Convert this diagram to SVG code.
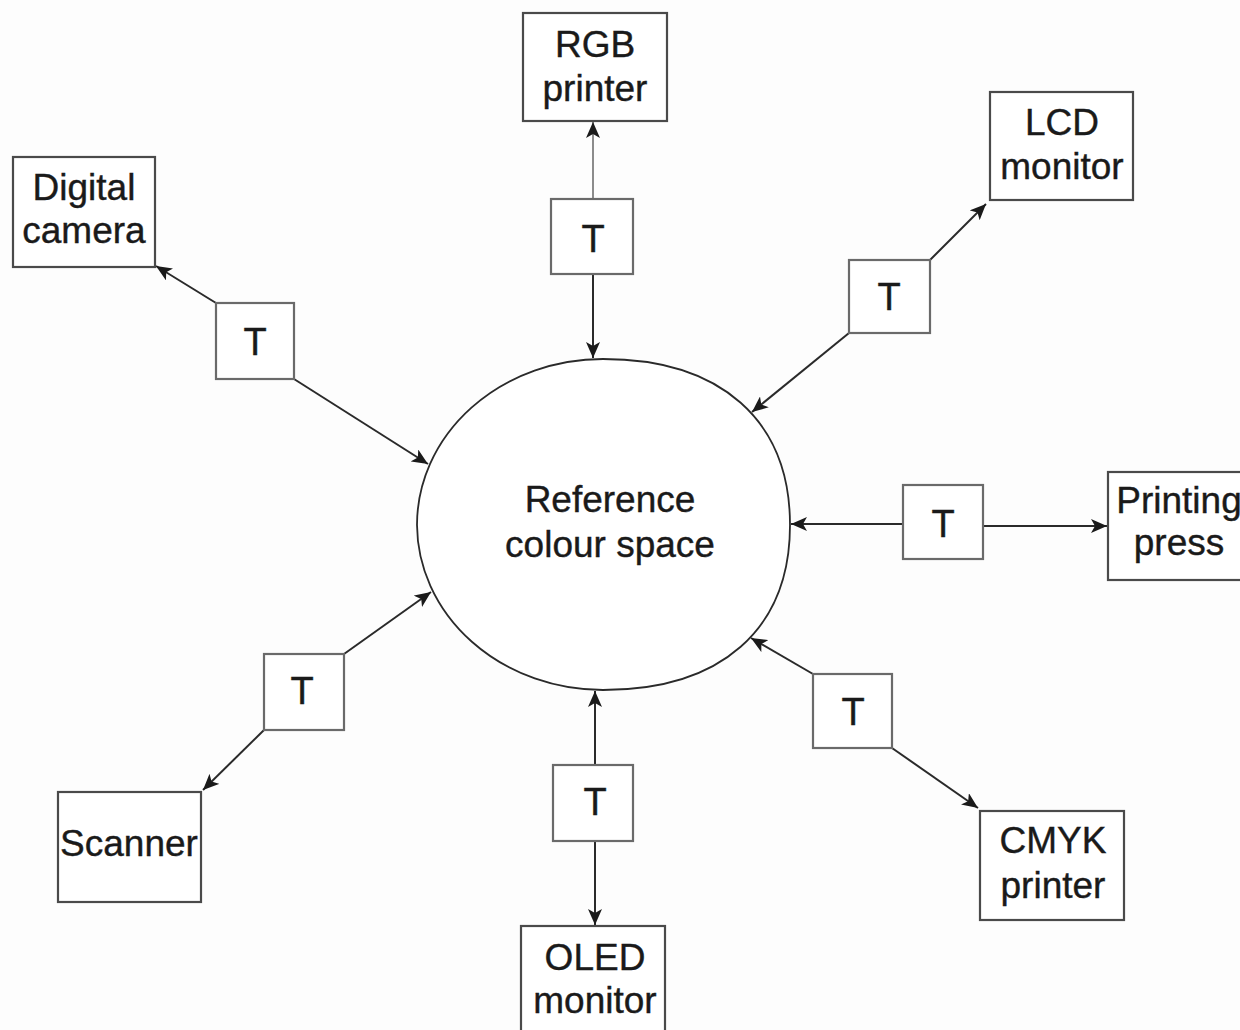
<svg xmlns="http://www.w3.org/2000/svg" width="1240" height="1030" viewBox="0 0 1240 1030">
<defs>
<marker id="ah" markerUnits="userSpaceOnUse" markerWidth="18" markerHeight="14" refX="16" refY="7" orient="auto">
<path d="M0,0 L16,7 L0,14 L4,7 Z" fill="#1a1a1a"/>
</marker>
</defs>
<style>
.box{fill:#ffffff;stroke:#4a4a4a;stroke-width:2.2}
.tbox{fill:#ffffff;stroke:#6a6a6a;stroke-width:2.2}
.lbl{font-family:"Liberation Sans",Arial,sans-serif;font-size:37px;fill:#1a1a1a;stroke:#1a1a1a;stroke-width:0.4;text-anchor:middle}
.t{font-family:"Liberation Sans",Arial,sans-serif;font-size:38px;fill:#1a1a1a;stroke:#1a1a1a;stroke-width:0.4;text-anchor:middle}
.c{fill:none;stroke:#2a2a2a;stroke-width:2;marker-end:url(#ah)}
.g{stroke:#8c8c8c}
</style>
<rect x="0" y="0" width="1240" height="1030" fill="#fdfdfd"/>

<g id="connectors">
<line class="c g" x1="593" y1="199" x2="593" y2="122"/>
<line class="c" x1="593" y1="274" x2="593" y2="358"/>
<line class="c" x1="216" y1="303" x2="156" y2="266"/>
<line class="c" x1="294" y1="379" x2="428" y2="464"/>
<line class="c" x1="930" y1="260" x2="986" y2="204"/>
<line class="c" x1="849" y1="333" x2="752" y2="412"/>
<line class="c" x1="903" y1="524" x2="791" y2="524"/>
<line class="c" x1="983" y1="526" x2="1107" y2="526"/>
<line class="c" x1="344" y1="654" x2="431" y2="592"/>
<line class="c" x1="264" y1="730" x2="203" y2="790"/>
<line class="c" x1="595" y1="765" x2="595" y2="691"/>
<line class="c" x1="595" y1="841" x2="595" y2="925"/>
<line class="c" x1="813" y1="674" x2="751" y2="638"/>
<line class="c" x1="892" y1="748" x2="978" y2="808"/>
</g>

<g id="reference">
<path d="M603,359 A186,166 0 0 0 417,525 A186,166 0 0 0 603,690 C720.8,690 790,629.6 790,525 C790,420.4 720.8,359 603,359 Z" fill="#ffffff" stroke="#2a2a2a" stroke-width="1.8"/>
<text class="lbl" x="610" y="512">Reference</text>
<text class="lbl" x="610" y="557">colour space</text>
</g>

<g id="rgb-printer">
<rect class="box" x="523" y="13" width="144" height="108"/>
<text class="lbl" x="595" y="57">RGB</text>
<text class="lbl" x="595" y="101">printer</text>
</g>
<g id="t-rgb">
<rect class="tbox" x="551" y="199" width="82" height="75"/>
<text class="t" x="593" y="252">T</text>
</g>

<g id="digital-camera">
<rect class="box" x="13" y="157" width="142" height="110"/>
<text class="lbl" x="84" y="200">Digital</text>
<text class="lbl" x="84" y="243">camera</text>
</g>
<g id="t-camera">
<rect class="tbox" x="216" y="303" width="78" height="76"/>
<text class="t" x="255" y="355">T</text>
</g>

<g id="lcd-monitor">
<rect class="box" x="990" y="92" width="143" height="108"/>
<text class="lbl" x="1062" y="135">LCD</text>
<text class="lbl" x="1062" y="179">monitor</text>
</g>
<g id="t-lcd">
<rect class="tbox" x="849" y="260" width="81" height="73"/>
<text class="t" x="889" y="310">T</text>
</g>

<g id="printing-press">
<rect class="box" x="1108" y="472" width="145" height="108"/>
<text class="lbl" x="1179" y="513">Printing</text>
<text class="lbl" x="1179" y="555">press</text>
</g>
<g id="t-press">
<rect class="tbox" x="903" y="485" width="80" height="74"/>
<text class="t" x="943" y="537">T</text>
</g>

<g id="scanner">
<rect class="box" x="58" y="792" width="143" height="110"/>
<text class="lbl" x="129" y="856">Scanner</text>
</g>
<g id="t-scanner">
<rect class="tbox" x="264" y="654" width="80" height="76"/>
<text class="t" x="302" y="704">T</text>
</g>

<g id="oled-monitor">
<rect class="box" x="521" y="926" width="144" height="110"/>
<text class="lbl" x="595" y="970">OLED</text>
<text class="lbl" x="595" y="1013">monitor</text>
</g>
<g id="t-oled">
<rect class="tbox" x="553" y="765" width="80" height="76"/>
<text class="t" x="595" y="815">T</text>
</g>

<g id="cmyk-printer">
<rect class="box" x="980" y="811" width="144" height="109"/>
<text class="lbl" x="1053" y="853">CMYK</text>
<text class="lbl" x="1053" y="898">printer</text>
</g>
<g id="t-cmyk">
<rect class="tbox" x="813" y="674" width="79" height="74"/>
<text class="t" x="853" y="725">T</text>
</g>
</svg>
